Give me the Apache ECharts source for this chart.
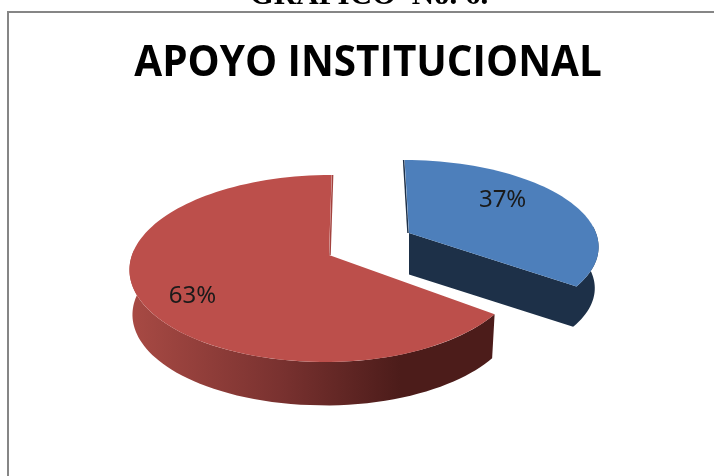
<!DOCTYPE html>
<html>
<head>
<meta charset="utf-8">
<style>
  html, body { margin: 0; padding: 0; background: #fff; overflow: hidden; }
  #chart { width: 714px; height: 476px; }
</style>
<script src="https://cdn.jsdelivr.net/npm/echarts@6/dist/echarts.min.js"></script>
</head>
<body>
<div id="chart"></div>
<script>
const captionText = 'GRAFICO  No. 6.'
const titleText = 'APOYO INSTITUCIONAL'
const sliceNames = ['Si', 'No']
const sliceValues = [37, 63]

// one projected disc per slice, the blue one sits further back
const discs = [
  { x: 409, y: 233, rxL: 187, rxR: 187, ry: 83, persp: 0.138, shear: 5, depth: 41.5, shrink: 0.98 },
  { x: 329, y: 255, rxL: 197, rxR: 190, ry: 91.6, persp: 0.144, shear: -3, depth: 45, shrink: 0.985 }
]
const topColors = ['#4d7fbb', '#bc4f4b']
// part of the rim that faces the viewer
const wallFrom = [84, null]
const wallTo = [null, 275]
const labelShift = [-21, -16.6]
const labelRadius = [0.68, 0.77]
const warp = 7

const total = sliceValues.reduce((a, b) => a + b, 0)

function project(d, deg, r, lower) {
  const a = deg + warp * Math.sin(2 * deg * Math.PI / 180)
  const rad = a * Math.PI / 180
  const X = r * Math.sin(rad)
  const u = -r * Math.cos(rad)
  const den = 1 - d.persp * u
  const k = lower ? d.shrink : 1
  const rx = X < 0 ? d.rxL : d.rxR
  return [
    d.x + k * (rx * X + d.shear * u) / den,
    d.y + k * d.ry * u / den + (lower ? d.depth : 0)
  ]
}

function arc(d, from, to, lower) {
  const pts = []
  const n = Math.ceil(Math.abs(to - from) / 2)
  for (let i = 0; i <= n; i++) {
    pts.push(project(d, from + (to - from) * i / n, 1, lower))
  }
  return pts
}

function renderSlice(params, api) {
  const i = params.dataIndex
  const d = discs[i]
  let start = 0
  for (let j = 0; j < i; j++) start += sliceValues[j]
  const from = start / total * 360
  const to = from + api.value(1) / total * 360

  const apex = project(d, 0, 0, false)
  const apexLow = project(d, 0, 0, true)
  const topArc = arc(d, from, to, false)
  const children = []

  if (i === 0) {
    // rim and cut face as one shape, so no seam shows between them
    const rimTop = arc(d, to, wallFrom[i], false)
    const rimLow = arc(d, wallFrom[i], to, true)
    children.push({
      type: 'polygon',
      shape: { points: [apex].concat(rimTop, rimLow, [apexLow]) },
      style: { fill: '#1d3048' }
    })
    children.push({
      type: 'line',
      shape: { x1: apex[0] - 1, y1: apex[1], x2: topArc[0][0] - 1, y2: topArc[0][1] },
      style: { stroke: '#1d3048', lineWidth: 1.5 }
    })
  } else {
    const rimTop = arc(d, from, wallTo[i], false)
    const rimLow = arc(d, wallTo[i], from, true)
    children.push({
      type: 'polygon',
      shape: { points: rimTop.concat(rimLow) },
      style: {
        fill: {
          type: 'linear', global: true, x: 130, y: 0, x2: 400, y2: 0,
          colorStops: [
            { offset: 0, color: '#a84a44' },
            { offset: 0.55, color: '#7a3230' },
            { offset: 1, color: '#4c1c1a' }
          ]
        }
      }
    })
    children.push({
      type: 'line',
      shape: { x1: apex[0] + 1, y1: apex[1], x2: topArc[topArc.length - 1][0] + 1, y2: topArc[topArc.length - 1][1] },
      style: { stroke: '#a3423e', lineWidth: 1.5 }
    })
  }

  children.push({
    type: 'polygon',
    shape: { points: [apex].concat(topArc) },
    style: { fill: topColors[i] }
  })

  const mid = (from + to) / 2 + labelShift[i]
  const lp = project(d, mid, labelRadius[i], false)
  children.push({
    type: 'text',
    x: lp[0],
    y: lp[1],
    style: {
      text: Math.round(api.value(1) / total * 100) + '%',
      font: '24px "Noto Sans"',
      fill: '#1a1a1a',
      align: 'center',
      verticalAlign: 'middle'
    }
  })
  return { type: 'group', children: children }
}

const chart = echarts.init(document.getElementById('chart'))
chart.setOption({
  animation: false,
  backgroundColor: '#fff',
  graphic: [
    {
      type: 'rect', z: 0, silent: true,
      shape: { x: 8, y: 12, width: 740, height: 500 },
      style: { fill: '#fff', stroke: '#868686', lineWidth: 2 }
    },
    {
      type: 'text', z: 1, x: 369, y: 11,
      style: { text: captionText, font: 'bold 31px "Liberation Serif"', fill: '#000', align: 'center', verticalAlign: 'bottom' }
    },
    {
      type: 'text', z: 1, x: 368, y: 64, scaleX: 0.94, originX: 0, originY: 0,
      style: { text: titleText, font: 'bold 43px "Open Sans"', fill: '#000', align: 'center', verticalAlign: 'middle' }
    }
  ],
  series: [{
    type: 'custom',
    coordinateSystem: 'none',
    z: 5,
    renderItem: renderSlice,
    data: sliceNames.map((n, i) => ({ name: n, value: [i, sliceValues[i]] }))
  }]
})
</script>
</body>
</html>
